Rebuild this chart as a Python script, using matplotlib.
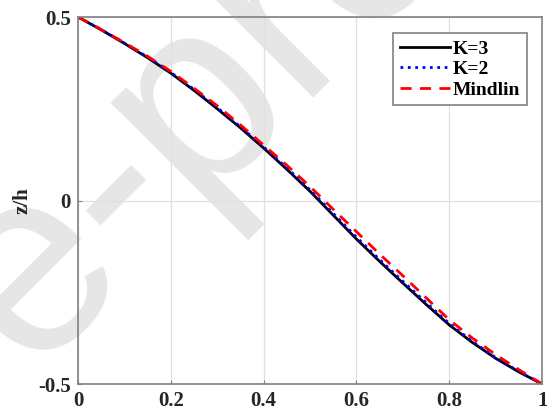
import matplotlib
matplotlib.use("Agg")
import matplotlib.pyplot as plt

x = [0.0, 0.05, 0.1, 0.15, 0.2, 0.25, 0.3, 0.35, 0.4, 0.45, 0.5,
     0.55, 0.6, 0.65, 0.7, 0.75, 0.8, 0.85, 0.9, 0.95, 1.0]
k3 = [0.5, 0.465, 0.428, 0.389, 0.347, 0.300, 0.250, 0.198, 0.143, 0.085, 0.025,
      -0.040, -0.105, -0.166, -0.225, -0.283, -0.339, -0.387, -0.430, -0.467, -0.5]
k2 = [0.5, 0.466, 0.429, 0.391, 0.349, 0.303, 0.253, 0.201, 0.146, 0.089, 0.029,
      -0.035, -0.100, -0.161, -0.220, -0.278, -0.335, -0.384, -0.428, -0.466, -0.5]
mindlin = [0.5, 0.466, 0.430, 0.393, 0.352, 0.306, 0.258, 0.206, 0.151, 0.096, 0.038,
           -0.024, -0.085, -0.146, -0.205, -0.265, -0.325, -0.375, -0.420, -0.461, -0.5]

xticks = [0, 0.2, 0.4, 0.6, 0.8, 1]
xticklabels = ['0', '0.2', '0.4', '0.6', '0.8', '1']
yticks = [-0.5, 0, 0.5]
yticklabels = ['-0.5', '0', '0.5']

plt.rcParams['font.family'] = 'Liberation Serif'

fig = plt.figure(figsize=(5.47, 4.19), dpi=100)
ax = fig.add_axes([0.1426, 0.0835, 0.8484, 0.8759])
ax.set_facecolor('none')

# watermark behind the axes
fig.text(-0.267, -0.10, 'Journal Pre-proof', rotation=45, fontsize=190,
         family='Liberation Sans', color='#e6e6e6', ha='center', va='center',
         zorder=-1, rotation_mode='anchor')

ax.plot(x, k3, color='black', lw=2, label='K=3')
ax.plot(x, k2, color='blue', lw=2, ls=':', label='K=2')
ax.plot(x, mindlin, color='red', lw=2, ls=(0, (4, 3)), label='Mindlin')

ax.set_xlim(0, 1)
ax.set_ylim(-0.5, 0.5)
ax.set_xticks(xticks)
ax.set_xticklabels(xticklabels, fontweight='bold')
ax.set_yticks(yticks)
ax.set_yticklabels(yticklabels, fontweight='bold')
ax.tick_params(direction='in', length=3, labelsize=15, colors='#808080',
               labelcolor='#262626')
ax.tick_params(axis='x', pad=5)
ax.tick_params(axis='y', pad=5)
ax.grid(True, color='#e0e0e0', lw=0.9)
ax.set_axisbelow(True)
for s in ax.spines.values():
    s.set_color('#808080')
    s.set_linewidth(1.2)
ax.set_ylabel('z/h', fontsize=15, fontweight='bold', color='#262626', labelpad=4)

leg = ax.legend(loc='upper right', prop={'size': 14, 'weight': 'bold'},
                fancybox=False, framealpha=1, edgecolor='#808080',
                handlelength=2.6, handletextpad=0.15, borderpad=0.35,
                labelspacing=0.15, borderaxespad=0,
                bbox_to_anchor=(0.968, 0.956))
leg.get_frame().set_linewidth(1.2)

fig.savefig('out.png', dpi=100)
